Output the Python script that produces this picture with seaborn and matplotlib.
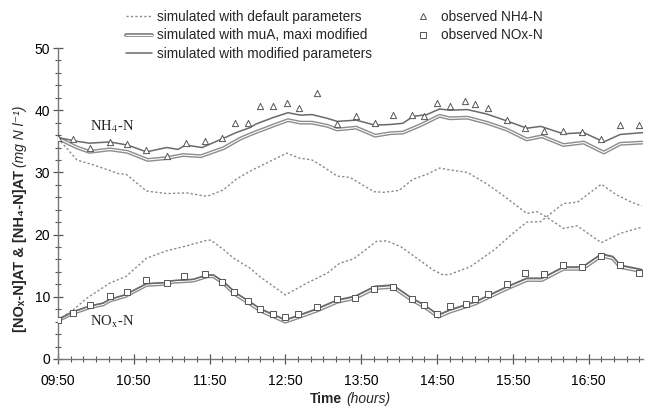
import numpy as np
import pandas as pd
import matplotlib
matplotlib.use("Agg")
import matplotlib.pyplot as plt
import matplotlib.patheffects as pe
from matplotlib.lines import Line2D
from matplotlib.ticker import MultipleLocator, FixedLocator
import seaborn as sns

# ---------------- data (time in minutes after 09:50) ----------------
tick_minutes = [0, 60, 120, 180, 240, 300, 360, 420]
tick_labels = ["09:50", "10:50", "11:50", "12:50", "13:50", "14:50", "15:50", "16:50"]

t_nh4_obs = [0, 12, 25, 41, 55, 70, 86, 101, 116, 130, 140, 150, 160, 170, 181, 191, 205,
             221, 236, 251, 265, 280, 290, 300, 310, 322, 330, 340, 355, 370, 385, 400,
             415, 430, 445, 460]
v_nh4_obs = [35.5, 35.4, 34.0, 34.9, 34.6, 33.6, 32.6, 34.7, 35.0, 35.5, 37.9, 38.0, 40.7,
             40.7, 41.2, 40.4, 42.8, 37.8, 39.1, 37.9, 39.3, 39.3, 39.1, 41.1, 40.6, 41.5,
             41.0, 40.3, 38.5, 37.2, 36.7, 36.7, 36.5, 35.3, 37.6, 37.6]

t_nox_obs = [0, 12, 25, 41, 55, 70, 86, 100, 116, 130, 139, 150, 160, 170, 180, 190, 205,
             221, 235, 250, 265, 280, 290, 300, 310, 323, 330, 340, 355, 370, 385, 400,
             415, 430, 445, 460]
v_nox_obs = [6.3, 7.4, 8.7, 10.1, 10.7, 12.7, 12.2, 13.3, 13.7, 12.3, 10.8, 9.3, 8.1, 7.2,
             6.8, 7.3, 8.3, 9.6, 9.8, 11.2, 11.6, 9.6, 8.7, 7.2, 8.5, 8.8, 9.6, 10.5, 12.0,
             13.9, 13.7, 15.1, 14.8, 16.6, 15.1, 13.9]

t_nh4_mod = [0, 15, 25, 41, 55, 70, 86, 95, 101, 114, 130, 141, 152, 157, 170, 182, 192,
             201, 213, 221, 236, 251, 263, 273, 281, 292, 302, 310, 324, 339, 355, 371,
             382, 400, 416, 432, 445, 463]
v_nh4_mod = [35.6, 35.0, 34.7, 34.9, 34.4, 33.3, 34.0, 33.7, 34.4, 34.0, 35.4, 36.4, 37.2,
             37.8, 38.8, 39.6, 39.2, 39.3, 38.7, 38.2, 38.4, 37.6, 37.7, 37.9, 39.0, 39.3,
             40.2, 40.0, 40.1, 39.4, 38.3, 37.1, 37.4, 36.2, 36.4, 34.9, 36.1, 36.4]

t_nh4_mua = [0, 15, 25, 41, 55, 71, 86, 99, 113, 131, 144, 152, 157, 170, 182, 192, 201,
             213, 221, 236, 251, 263, 273, 287, 302, 310, 324, 339, 355, 371, 383, 400,
             416, 432, 445, 463]
v_nh4_mua = [35.5, 34.0, 33.3, 33.7, 33.3, 32.0, 32.3, 32.8, 32.6, 33.9, 35.4, 36.1, 36.5,
             37.5, 38.4, 38.0, 38.0, 37.5, 36.9, 37.2, 35.9, 36.3, 36.4, 37.6, 39.1, 38.7,
             38.8, 38.0, 36.9, 35.3, 35.8, 34.4, 34.8, 33.2, 34.6, 34.8]

t_nh4_def = [0, 15, 28, 41, 48, 54, 70, 86, 102, 116, 120, 131, 141, 152, 160, 170, 181,
             191, 201, 210, 221, 231, 250, 258, 270, 281, 292, 302, 310, 324, 339, 353,
             371, 379, 386, 400, 411, 430, 445, 462]
v_nh4_def = [35.5, 32.0, 31.2, 30.3, 29.8, 29.7, 27.0, 26.6, 26.7, 26.2, 26.3, 27.2, 28.9,
             30.2, 31.0, 32.0, 33.1, 32.3, 32.0, 30.9, 29.4, 29.2, 26.9, 26.8, 27.1, 28.9,
             29.7, 30.7, 30.4, 30.0, 28.2, 26.2, 23.4, 23.7, 22.9, 21.0, 21.4, 18.7, 20.2,
             21.2]

t_nox_def = [0, 12, 23, 41, 54, 70, 86, 102, 118, 121, 131, 139, 152, 160, 180, 197, 213,
             223, 234, 252, 260, 271, 284, 297, 305, 310, 326, 345, 360, 371, 382, 392,
             400, 411, 430, 442, 453, 462]
v_nox_def = [6.3, 7.9, 9.8, 12.2, 13.3, 16.2, 17.4, 18.2, 19.1, 19.1, 17.6, 16.2, 14.6,
             13.2, 10.3, 12.2, 13.8, 15.4, 16.1, 18.9, 19.0, 18.1, 16.2, 14.3, 13.5, 13.6,
             14.8, 17.5, 20.2, 22.0, 22.1, 23.7, 25.0, 25.2, 28.1, 26.4, 25.3, 24.6]

t_nox_sim = [0, 12, 25, 36, 41, 53, 70, 86, 91, 107, 118, 123, 131, 141, 152, 160, 180,
             190, 205, 221, 235, 251, 265, 280, 290, 301, 310, 330, 355, 371, 383, 400,
             415, 430, 439, 445, 462]
v_nox_mod = [6.3, 7.6, 8.5, 9.0, 9.6, 10.3, 12.1, 12.3, 12.6, 12.8, 13.5, 13.5, 12.4, 10.6,
             9.2, 8.1, 6.3, 7.0, 8.1, 9.5, 10.1, 11.7, 11.9, 9.8, 8.7, 7.1, 7.9, 9.2, 11.6,
             13.0, 13.0, 14.8, 14.8, 16.9, 16.5, 15.1, 14.4]
v_nox_mua = [6.2, 7.4, 8.3, 8.8, 9.4, 10.1, 11.9, 12.1, 12.4, 12.6, 13.3, 13.3, 12.2, 10.3,
             8.9, 7.8, 6.0, 6.7, 7.8, 9.2, 9.8, 11.4, 11.6, 9.5, 8.4, 6.8, 7.6, 8.9, 11.3,
             12.7, 12.7, 14.5, 14.5, 16.6, 16.2, 14.8, 14.1]

legend_labels = ["simulated with default parameters",
                 "simulated with muA, maxi modified",
                 "simulated with modified parameters",
                 "observed NH4-N",
                 "observed NOx-N"]

# ---------------- style ----------------
sns.set_style("ticks")
plt.rcParams['font.family'] = ['Liberation Sans', 'DejaVu Sans']
plt.rcParams['axes.edgecolor'] = '#777777'
plt.rcParams['xtick.color'] = '#555555'
plt.rcParams['ytick.color'] = '#555555'
plt.rcParams['xtick.labelcolor'] = 'black'
plt.rcParams['ytick.labelcolor'] = 'black'

W, H = 646, 408
fig = plt.figure(figsize=(W / 100, H / 100), dpi=100)
ax = fig.add_axes([58 / W, 49 / H, (643 - 58) / W, (359 - 48) / H])

gray = '#8c8c8c'
dark = '#6a6a6a'
dot_kw = dict(color='#8a8a8a', lw=1.0, linestyle=(0, (1.6, 1.6)))
mua_kw = dict(color='white', lw=0.8,
              path_effects=[pe.Stroke(linewidth=2.8, foreground=gray), pe.Normal()])
mod_kw = dict(color=dark, lw=1.1)

# default simulations
sns.lineplot(x=t_nh4_def, y=v_nh4_def, ax=ax, errorbar=None, **dot_kw)
sns.lineplot(x=t_nox_def, y=v_nox_def, ax=ax, errorbar=None, **dot_kw)
# muA, maxi modified
sns.lineplot(x=t_nh4_mua, y=v_nh4_mua, ax=ax, errorbar=None, **mua_kw)
sns.lineplot(x=t_nox_sim, y=v_nox_mua, ax=ax, errorbar=None, **mua_kw)
# modified parameters
sns.lineplot(x=t_nh4_mod, y=v_nh4_mod, ax=ax, errorbar=None, **mod_kw)
sns.lineplot(x=t_nox_sim, y=v_nox_mod, ax=ax, errorbar=None, **mod_kw)

# observations
sns.scatterplot(x=t_nh4_obs, y=v_nh4_obs, ax=ax, marker='^', s=20,
                fc='white', ec='#555555', linewidth=0.7, zorder=5)
sns.scatterplot(x=t_nox_obs, y=v_nox_obs, ax=ax, marker='s', s=17,
                fc='white', ec='#555555', linewidth=0.7, zorder=5)

# axes
ax.set_xlim(0, 463)
ax.set_ylim(0, 50)
ax.xaxis.set_major_locator(FixedLocator(tick_minutes))
ax.set_xticklabels(tick_labels)
ax.xaxis.set_minor_locator(MultipleLocator(10))
ax.yaxis.set_major_locator(MultipleLocator(10))
ax.yaxis.set_minor_locator(MultipleLocator(2))
ax.tick_params(which='major', direction='inout', length=7, width=0.9, labelsize=10)
ax.tick_params(which='minor', direction='inout', length=4, width=0.8)
ax.tick_params(axis='x', which='major', pad=7)
ax.tick_params(axis='y', which='major', pad=2)
for s in ['top', 'right']:
    ax.spines[s].set_visible(False)
for s in ['left', 'bottom']:
    ax.spines[s].set_linewidth(1.0)
ax.set_xlabel("")
ax.set_ylabel("")

# in-plot labels
ax.text(43, 37.3, "NH$_4$-N", family='Liberation Serif', math_fontfamily='stix',
        fontsize=10.5, ha='center', va='center')
ax.text(43, 6.0, "NO$_\\mathrm{x}$-N", family='Liberation Serif', math_fontfamily='stix',
        fontsize=10.5, ha='center', va='center')

# legend
handles = [Line2D([], [], **dot_kw),
           Line2D([], [], **mua_kw),
           Line2D([], [], **mod_kw),
           Line2D([], [], marker='^', ls='none', ms=4.5, mfc='white', mec='#555555', mew=0.7),
           Line2D([], [], marker='s', ls='none', ms=4, mfc='white', mec='#555555', mew=0.7)]
fig.legend(handles, legend_labels, ncol=2, loc='upper left',
           bbox_to_anchor=(126 / W, 1 - 10 / H), frameon=False, fontsize=9.8,
           handlelength=1.9, handletextpad=0.37, columnspacing=2.8, labelspacing=0.32,
           borderpad=0, borderaxespad=0)

# axis labels (bold + italic parts)
fig.canvas.draw()
r = fig.canvas.get_renderer()
yl1 = fig.text(20 / W, 1 - 332 / H, "[NOₓ-N]AT & [NH₄-N]AT", rotation=90,
               rotation_mode='anchor', ha='left', va='center', fontsize=10.5,
               fontweight='bold')
bb = yl1.get_window_extent(r)
fig.text(20 / W, (bb.y1 + 3) / H, "(mg N l⁻¹)", rotation=90, rotation_mode='anchor',
         ha='left', va='center', fontsize=10, style='italic')

xl1 = fig.text(310 / W, 1 - 399 / H, "Time", ha='left', va='center', fontsize=10,
               fontweight='bold')
bb = xl1.get_window_extent(r)
fig.text((bb.x1 + 4) / W, 1 - 399 / H, "(hours)", ha='left', va='center', fontsize=10,
         style='italic')

fig.savefig("out.png", dpi=100)
